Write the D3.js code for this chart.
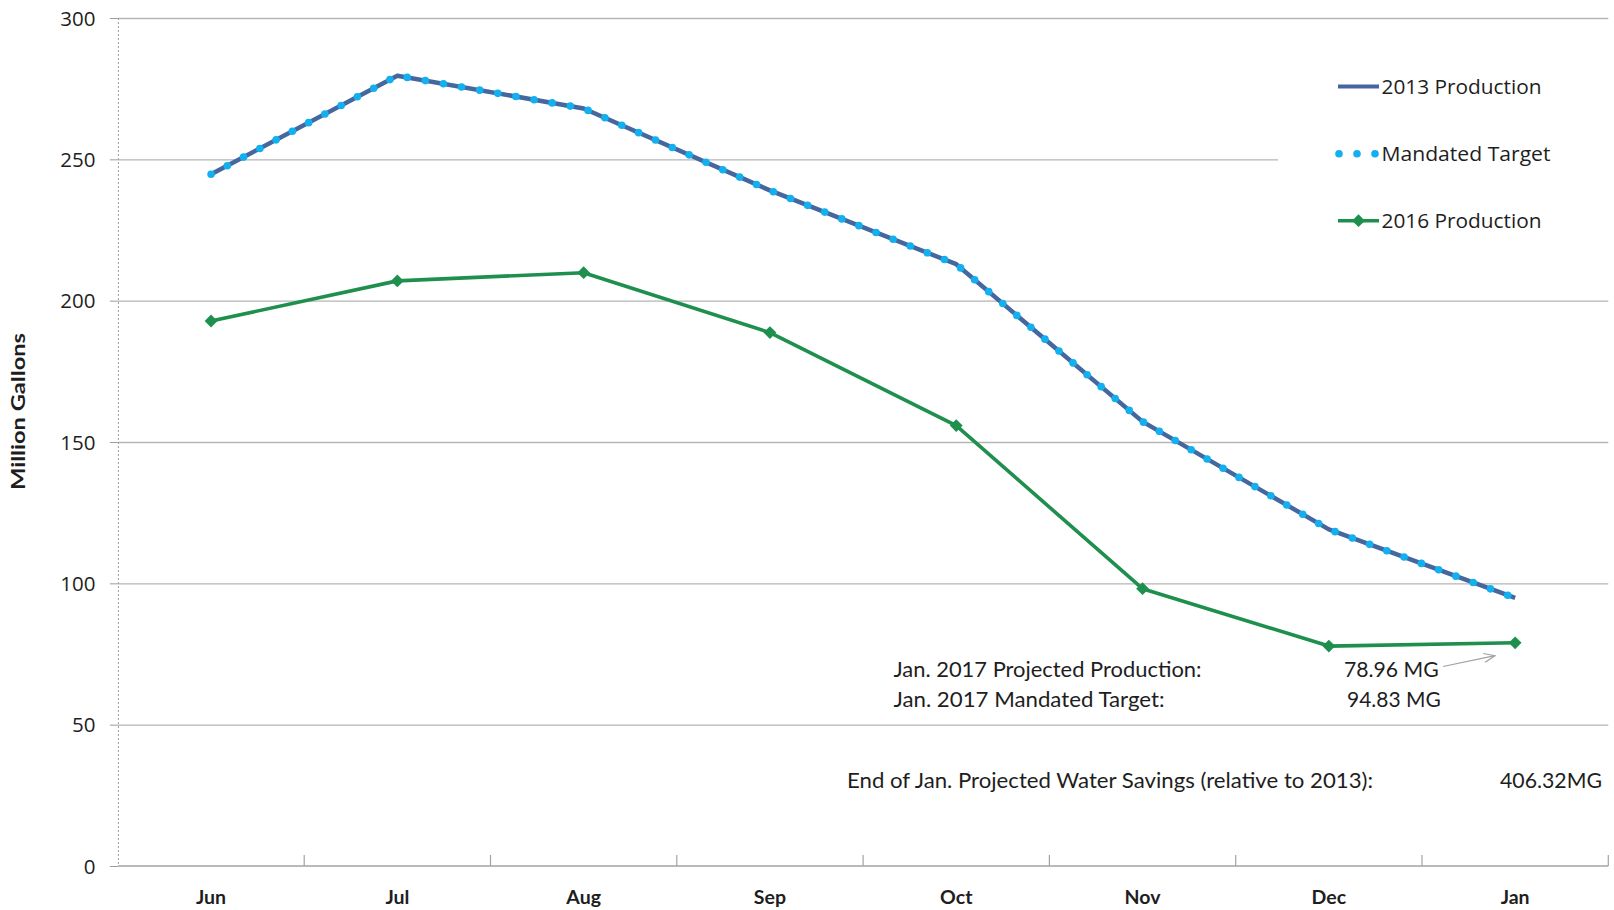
<!DOCTYPE html>
<html>
<head>
<meta charset="utf-8">
<script src="https://cdn.jsdelivr.net/npm/d3@7"></script>
<style>
  html, body { margin: 0; padding: 0; background: #fff; }
  svg { display: block; }
</style>
</head>
<body>
<svg id="chart" width="1614" height="910"></svg>
<script>
// ---- data ----
const months = ["Jun", "Jul", "Aug", "Sep", "Oct", "Nov", "Dec", "Jan"];
const production2013 = [244.7, 279.6, 268.0, 239.0, 212.9, 157.2, 119.1, 94.83];
const mandatedTarget = [244.7, 279.6, 268.0, 239.0, 212.9, 157.2, 119.1, 94.83];
const production2016 = [192.8, 207.0, 209.9, 188.7, 155.8, 98.1, 77.8, 78.96];
const yTicks = [0, 50, 100, 150, 200, 250, 300];
const seriesNames = ["2013 Production", "Mandated Target", "2016 Production"];
const notes = [
  { label: "Jan. 2017 Projected Production:", value: "78.96 MG" },
  { label: "Jan. 2017 Mandated Target:", value: "94.83 MG" }
];
const savingsLabel = "End of Jan. Projected Water Savings (relative to 2013):";
const savingsValue = "406.32MG";
const yTitle = "Million Gallons";

// ---- layout ----
const X0 = 117.9, X1 = 1608.3, Y0 = 866, Y1 = 18;
const C_BLUE = "#44679f", C_DOT = "#12b0ef", C_GREEN = "#1f8f4e";
const C_GRID = "#b5b5b5", C_TEXT = "#1e1e1e";

const svg = d3.select("#chart");
const x = d3.scaleBand().domain(months).range([X0, X1]).padding(0);
const y = d3.scaleLinear().domain([0, 300]).range([Y0, Y1]);
const cx = m => x(m) + x.bandwidth() / 2;

// gridlines
const grid = svg.append("g").attr("transform", `translate(${X0},0)`)
  .call(d3.axisLeft(y).tickValues(yTicks.filter(v => v > 0)).tickSize(-(X1 - X0)).tickFormat(""));
grid.select(".domain").remove();
grid.selectAll("line").attr("stroke", C_GRID).attr("stroke-width", 1.3);

// y axis (ticks + labels)
const yAxis = svg.append("g").attr("transform", `translate(${X0},0)`)
  .call(d3.axisLeft(y).tickValues(yTicks).tickSize(8).tickPadding(15));
yAxis.select(".domain").attr("stroke", "#9c9c9c").attr("stroke-width", 1)
  .attr("stroke-dasharray", "2,2").attr("d", `M0.5,${Y1}V${Y0}`);
yAxis.selectAll(".tick line").attr("stroke", "#9c9c9c").attr("stroke-width", 1);
yAxis.selectAll(".tick text")
  .attr("font-family", "'Open Sans', sans-serif").attr("font-size", 20.5)
  .attr("fill", C_TEXT).attr("x", -22.5).attr("dy", "0.35em");

// x axis labels
const xAxis = svg.append("g").attr("transform", `translate(0,${Y0})`)
  .call(d3.axisBottom(x).tickSize(0));
xAxis.select(".domain").remove();
xAxis.selectAll(".tick text")
  .attr("font-family", "Lato, sans-serif").attr("font-weight", "bold")
  .attr("font-size", 19.5).attr("fill", C_TEXT).attr("y", 37.5).attr("dy", 0);

// x axis line and boundary ticks (inside)
svg.append("line").attr("x1", X0).attr("x2", X1).attr("y1", Y0).attr("y2", Y0)
  .attr("stroke", "#a3a3a3").attr("stroke-width", 1.6);
const bounds = months.slice(1).map(m => x(m)).concat([X1]);
svg.append("g").selectAll("line").data(bounds).join("line")
  .attr("x1", d => d).attr("x2", d => d).attr("y1", Y0).attr("y2", Y0 - 11)
  .attr("stroke", "#a3a3a3").attr("stroke-width", 1.2);

// y axis title
svg.append("text").attr("transform", "translate(25,411.5) rotate(-90)")
  .attr("text-anchor", "middle").attr("font-family", "Lato, sans-serif")
  .attr("font-weight", "bold").attr("font-size", 19).attr("fill", C_TEXT)
  .attr("textLength", 157).attr("lengthAdjust", "spacingAndGlyphs")
  .text(yTitle);

// ---- series ----
const line = d3.line().x((d, i) => cx(months[i])).y(d => y(d)).curve(d3.curveLinear);

svg.append("path").datum(production2013).attr("d", line)
  .attr("fill", "none").attr("stroke", C_BLUE).attr("stroke-width", 4.5)
  .attr("stroke-linejoin", "round");
svg.append("path").datum(mandatedTarget).attr("d", line)
  .attr("fill", "none").attr("stroke", C_DOT).attr("stroke-width", 7.6)
  .attr("stroke-linecap", "round").attr("stroke-dasharray", "0 18.4");

svg.append("path").datum(production2016).attr("d", line)
  .attr("fill", "none").attr("stroke", C_GREEN).attr("stroke-width", 3.6)
  .attr("stroke-linejoin", "round");
const diamond = d3.symbol().type(d3.symbolDiamond2).size(105);
svg.append("g").selectAll("path").data(production2016).join("path")
  .attr("d", diamond)
  .attr("transform", (d, i) => `translate(${cx(months[i])},${y(d)})`)
  .attr("fill", C_GREEN);

// ---- legend ----
const leg = svg.append("g");
leg.append("rect").attr("x", 1278).attr("y", 40).attr("width", 1614 - 1278).attr("height", 212)
  .attr("fill", "#fff");
const legY = [86.5, 153.7, 220.7];
const lx0 = 1338, lx1 = 1379;
leg.append("line").attr("x1", lx0).attr("x2", lx1).attr("y1", legY[0]).attr("y2", legY[0])
  .attr("stroke", C_BLUE).attr("stroke-width", 4);
leg.append("path").attr("d", `M${lx0 + 1},${legY[1]}H${lx1}`)
  .attr("stroke", C_DOT).attr("stroke-width", 7.6).attr("stroke-linecap", "round")
  .attr("stroke-dasharray", "0 18").attr("fill", "none");
leg.append("line").attr("x1", lx0).attr("x2", lx1).attr("y1", legY[2]).attr("y2", legY[2])
  .attr("stroke", C_GREEN).attr("stroke-width", 3.6);
leg.append("path").attr("d", diamond).attr("transform", `translate(${(lx0 + lx1) / 2},${legY[2]})`)
  .attr("fill", C_GREEN);
const legW = [160, 169, 160];
leg.selectAll("text.lg").data(seriesNames).join("text").attr("class", "lg")
  .attr("x", 1381.5).attr("y", (d, i) => legY[i]).attr("dy", "0.36em")
  .attr("font-family", "'Open Sans', sans-serif").attr("font-size", 20.5)
  .attr("fill", C_TEXT)
  .attr("textLength", (d, i) => legW[i]).attr("lengthAdjust", "spacingAndGlyphs")
  .text(d => d);

// ---- annotations ----
const ann = svg.append("g").attr("font-family", "Lato, sans-serif")
  .attr("font-size", 20.5).attr("fill", C_TEXT);
const noteY = [677, 707];
const noteLabelW = [308, 271], noteValX = [1344, 1347], noteValW = [94.7, 93.7];
notes.forEach((n, i) => {
  ann.append("text").attr("x", 893.5).attr("y", noteY[i])
    .attr("textLength", noteLabelW[i]).attr("lengthAdjust", "spacingAndGlyphs").text(n.label);
  ann.append("text").attr("x", noteValX[i]).attr("y", noteY[i])
    .attr("textLength", noteValW[i]).attr("lengthAdjust", "spacingAndGlyphs").text(n.value);
});
ann.append("text").attr("x", 847).attr("y", 787.5)
  .attr("textLength", 526).attr("lengthAdjust", "spacingAndGlyphs").text(savingsLabel);
ann.append("text").attr("x", 1500).attr("y", 787.5)
  .attr("textLength", 102).attr("lengthAdjust", "spacingAndGlyphs").text(savingsValue);

// arrow from the projected value to the January point
svg.append("defs").append("marker").attr("id", "arr")
  .attr("viewBox", "0 0 12 10").attr("refX", 11).attr("refY", 5)
  .attr("markerWidth", 12).attr("markerHeight", 10).attr("markerUnits", "userSpaceOnUse")
  .attr("orient", "auto")
  .append("path").attr("d", "M0,0.5L11,5L0,9.5").attr("fill", "none")
  .attr("stroke", "#a0a0a0").attr("stroke-width", 1.2);
svg.append("line").attr("x1", 1443).attr("y1", 666.5).attr("x2", 1495).attr("y2", 655.7)
  .attr("stroke", "#a0a0a0").attr("stroke-width", 1.2).attr("marker-end", "url(#arr)");
</script>
</body>
</html>
